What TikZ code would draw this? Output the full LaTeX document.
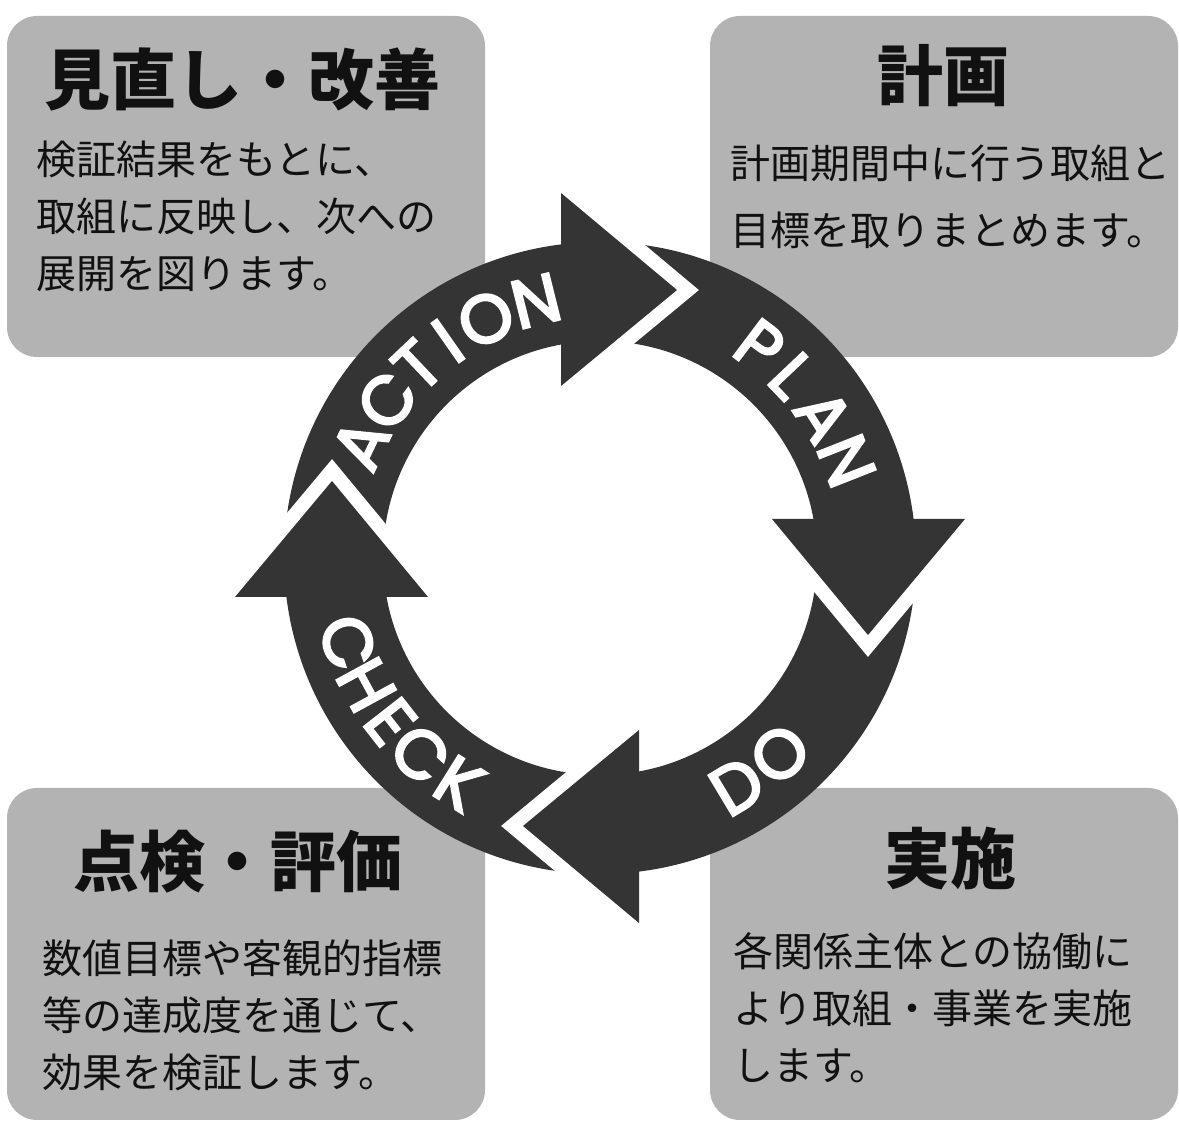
\documentclass[tikz,border=0pt]{standalone}
\usepackage{fontspec}
\newfontfamily\jpfont{Noto Sans CJK JP}
\newfontfamily\arcfont{Poppins}[FakeBold=3.5]
\definecolor{boxgray}{RGB}{179,179,179}
\definecolor{ringdark}{RGB}{53,52,52}
\definecolor{ink}{RGB}{17,17,17}
\begin{document}
\begin{tikzpicture}[x=1pt,y=1pt,
  panel/.style={fill=boxgray, rounded corners=30pt},
  ttl/.style={font=\jpfont\bfseries\fontsize{66}{70}\selectfont, text=ink, inner sep=0pt},
  body/.style={font=\jpfont\fontsize{40}{57}\selectfont, text=ink, inner sep=0pt, align=left, anchor=west},
  band/.style={fill=ringdark},
  headfill/.style={fill=ringdark},
  headgap/.style={draw=white, line width=28pt, miter limit=10},
  ringlet/.style={font=\arcfont\fontsize{68}{68}\selectfont, text=white, inner sep=0pt, anchor=center},
]
\useasboundingbox (0,0) rectangle (1179,1122);
\fill[white] (0,0) rectangle (1179,1122);

% panels
\fill[panel] (7,765) rectangle (485,1106);
\fill[panel] (710,765) rectangle (1178,1106);
\fill[panel] (7,2) rectangle (485,334);
\fill[panel] (710,2) rectangle (1178,334);

% titles
\node[ttl] (tTL) at (243,1043) {見直し・改善};
\node[ttl] (tTR) at (943,1046) {計画};
\node[ttl] (tBL) at (238,260) {点検・評価};
\node[ttl] (tBR) at (950,264) {実施};

% bodies
\node[body] (bTL) at (36,905.5) {検証結果をもとに、\\取組に反映し、次への\\展開を図ります。};
\node[body, font=\jpfont\fontsize{40}{67}\selectfont] (bTR) at (730,925.5) {計画期間中に行う取組と\\目標を取りまとめます。};
\node[body] (bBL) at (42,107) {数値目標や客観的指標\\等の達成度を通じて、\\効果を検証します。};
\node[body] (bBR) at (733,114) {各関係主体との協働に\\より取組・事業を実施\\します。};

% cycle
\begin{scope}[shift={(600,564)}]
  \foreach \r in {0,-90,-180,-270}{
    \fill[band, rotate=\r] (180:316) arc[start angle=180, end angle=95, radius=316]
      -- (95:217) arc[start angle=95, end angle=180, radius=217] -- cycle;
  }
  \foreach \r in {0,-90,-180,-270}{
    \begin{scope}[rotate=\r]
      \draw[headgap] (-39,365) -- (77,268) -- (-39,172);
      \fill[headfill] (-39,365) -- (77,268) -- (-39,172) -- cycle;
    \end{scope}
  }
  \foreach \ch/\a [count=\i] in {A/154.5, C/143.5, T/133.5, I/125, O/115.5, N/104}
    \node[ringlet, rotate=\a-90] (act\i) at (\a:265) {\ch};
  \foreach \ch/\a [count=\i] in {P/53, L/43.5, A/32.5, N/21.5}
    \node[ringlet, rotate=\a-90] (pln\i) at (\a:265) {\ch};
  \foreach \ch/\a [count=\i] in {D/-59, O/-47.5}
    \node[ringlet, rotate=\a+90] (do\i) at (\a:266) {\ch};
  \foreach \ch/\a [count=\i] in {C/198.5, H/208.5, E/218, C/227.5, K/238}
    \node[ringlet, rotate=\a+90] (chk\i) at (\a:266) {\ch};
\end{scope}
\end{tikzpicture}
\end{document}
